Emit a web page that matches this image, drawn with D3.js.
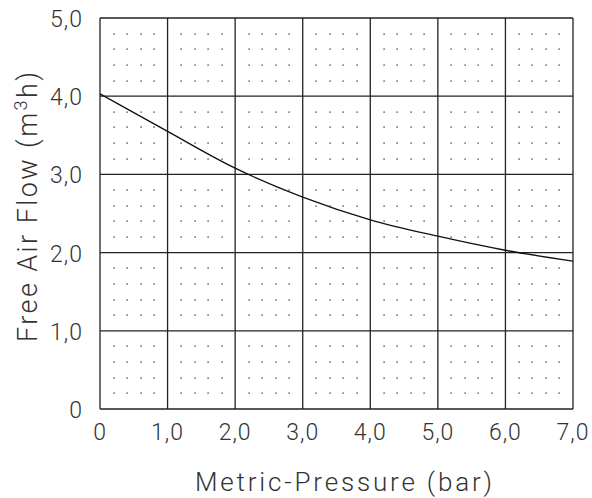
<!DOCTYPE html>
<html>
<head>
<meta charset="utf-8">
<script src="https://cdn.jsdelivr.net/npm/d3@7"></script>
<style>
  body { margin: 0; background: #fff; }
  text { font-family: "Roboto", "DejaVu Sans", sans-serif; font-weight: 300; fill: #333; }
</style>
</head>
<body>
<svg id="chart"></svg>
<script>
// pressure (bar) and free air flow (m3/h)
const pressure = [0, 1, 2, 3, 4, 5, 6, 7];
const flow = [4.03, 3.55, 3.08, 2.71, 2.42, 2.21, 2.03, 1.89];
const xTicks = [0, 1, 2, 3, 4, 5, 6, 7];
const yTicks = [0, 1, 2, 3, 4, 5];
const tickLabel = d => d === 0 ? '0' : d3.format('.1f')(d).replace('.', ',');

const width = 592, height = 498;
const margin = {top: 18, right: 19, bottom: 89, left: 100};
const w = width - margin.left - margin.right;
const h = height - margin.top - margin.bottom;

const svg = d3.select('#chart').attr('width', width).attr('height', height);
const g = svg.append('g').attr('transform', `translate(${margin.left},${margin.top})`);

const x = d3.scaleLinear().domain([0, 7]).range([0, w]);
const y = d3.scaleLinear().domain([0, 5]).range([h, 0]);

// dots: 4x4 inside every cell
const dots = [];
for (let i = 0; i < 7; i++) {
  for (let j = 0; j < 5; j++) {
    for (let a = 1; a <= 4; a++) {
      for (let b = 1; b <= 4; b++) {
        dots.push([i + a / 5, j + b / 5]);
      }
    }
  }
}
g.append('g').selectAll('rect')
  .data(dots)
  .join('rect')
    .attr('x', d => Math.round(x(d[0])) - 0.5)
    .attr('y', d => Math.round(y(d[1])) - 0.5)
    .attr('width', 1.2)
    .attr('height', 1.2)
    .attr('fill', '#111');

// grid lines
g.append('g').selectAll('line.v')
  .data(xTicks)
  .join('line')
    .attr('x1', d => x(d)).attr('x2', d => x(d))
    .attr('y1', 0).attr('y2', h)
    .attr('stroke', '#222').attr('stroke-width', 1.3);
g.append('g').selectAll('line.h')
  .data(yTicks)
  .join('line')
    .attr('x1', 0).attr('x2', w)
    .attr('y1', d => y(d)).attr('y2', d => y(d))
    .attr('stroke', '#222').attr('stroke-width', 1.3);

// curve
const line = d3.line()
  .x((d, i) => x(pressure[i]))
  .y(d => y(d))
  .curve(d3.curveMonotoneX);
g.append('path')
  .datum(flow)
  .attr('d', line)
  .attr('fill', 'none')
  .attr('stroke', '#111')
  .attr('stroke-width', 1.3);

// tick labels
g.append('g').selectAll('text')
  .data(xTicks)
  .join('text')
    .attr('x', d => x(d))
    .attr('y', h + 31)
    .attr('text-anchor', 'middle')
    .attr('font-size', 23)
    .attr('letter-spacing', 1)
    .text(tickLabel);
g.append('g').selectAll('text')
  .data(yTicks)
  .join('text')
    .attr('x', -17)
    .attr('y', d => y(d) + 9)
    .attr('text-anchor', 'end')
    .attr('font-size', 23)
    .attr('letter-spacing', 1)
    .text(tickLabel);

// axis titles
svg.append('text')
  .attr('x', 195)
  .attr('y', 491)
  .attr('font-size', 26)
  .attr('textLength', 297)
  .attr('lengthAdjust', 'spacing')
  .text('Metric-Pressure (bar)');

const yt = svg.append('text')
  .attr('transform', `translate(37,342) rotate(-90)`)
  .attr('font-size', 27);
yt.append('tspan').text('Free Air Flow (m');
yt.append('tspan').attr('baseline-shift', 'super').attr('font-size', 18).text('3');
yt.append('tspan').attr('baseline-shift', 'baseline').text('h)');
// stretch the rotated title to the reference length
const natural = yt.node().getComputedTextLength();
const extra = (270 - natural) / 18;
yt.attr('letter-spacing', extra);
</script>
</body>
</html>
